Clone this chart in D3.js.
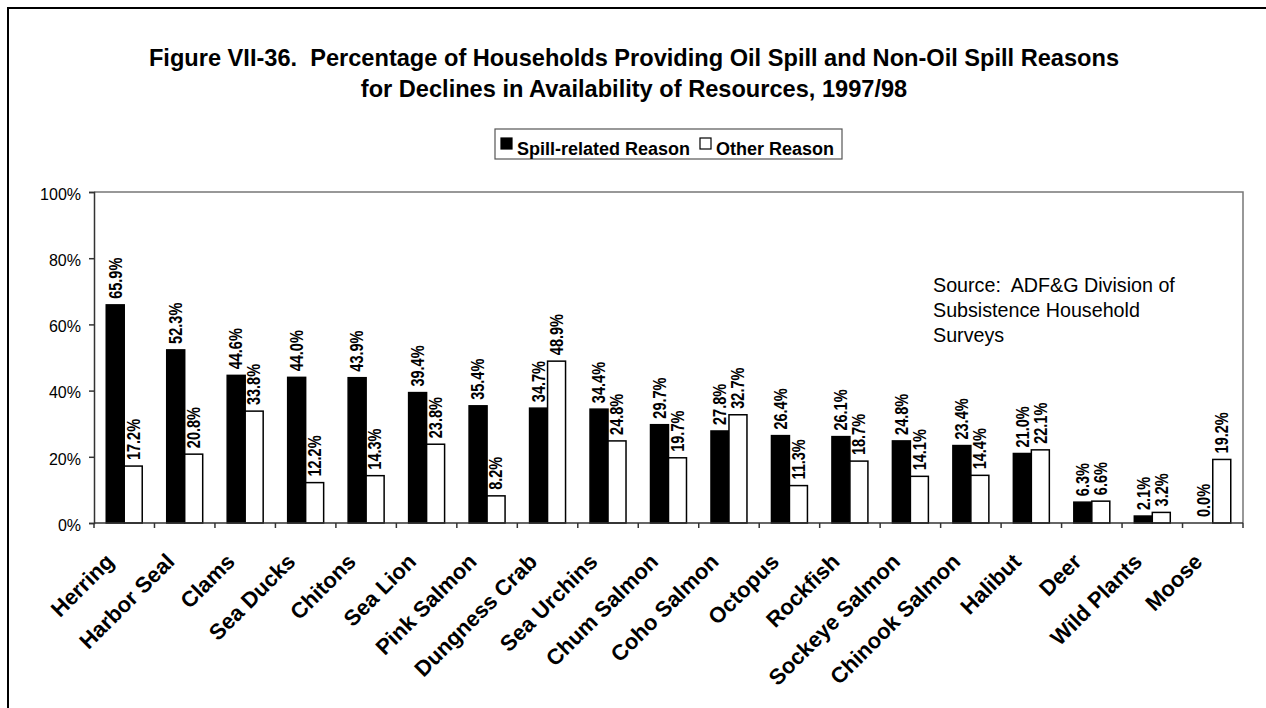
<!DOCTYPE html>
<html><head><meta charset="utf-8">
<script src="https://cdn.jsdelivr.net/npm/d3@7"></script>
<style>
body{margin:0;background:#fff}
svg{display:block}
text{font-family:Arial,"Liberation Sans",sans-serif;white-space:pre}
</style>
</head><body>
<svg id="chart" width="1266" height="708"></svg>
<script>
const categories = ["Herring","Harbor Seal","Clams","Sea Ducks","Chitons","Sea Lion","Pink Salmon","Dungness Crab","Sea Urchins","Chum Salmon","Coho Salmon","Octopus","Rockfish","Sockeye Salmon","Chinook Salmon","Halibut","Deer","Wild Plants","Moose"];
const spillValues = [65.9,52.3,44.6,44.0,43.9,39.4,35.4,34.7,34.4,29.7,27.8,26.4,26.1,24.8,23.4,21.0,6.3,2.1,0.0];
const otherValues = [17.2,20.8,33.8,12.2,14.3,23.8,8.2,48.9,24.8,19.7,32.7,11.3,18.7,14.1,14.4,22.1,6.6,3.2,19.2];
const seriesNames = ["Spill-related Reason","Other Reason"];
const seriesFill = ["#000000","#ffffff"];
const yTicks = [0,20,40,60,80,100];
const titleLines = ["Figure VII-36.  Percentage of Households Providing Oil Spill and Non-Oil Spill Reasons","for Declines in Availability of Resources, 1997/98"];
const sourceLines = ["Source:  ADF&G Division of","Subsistence Household","Surveys"];

const svg = d3.select("#chart");
const L = 94, R = 1243, T = 192, B = 523;

// outer border
svg.append("rect").attr("x",8).attr("y",8).attr("width",1300).attr("height",800)
  .attr("fill","none").attr("stroke","#000").attr("stroke-width",2);

// title
svg.append("g").selectAll("text").data(titleLines).join("text")
  .attr("x",634).attr("y",(d,i)=>66+i*31)
  .attr("text-anchor","middle").attr("font-weight","bold").attr("font-size",23.6)
  .text(d=>d);

const x = d3.scaleBand().domain(categories).range([L,R]).paddingInner(0.405).paddingOuter(0.2025);
const xs = d3.scaleBand().domain([0,1]).range([0,x.bandwidth()]);
const y = d3.scaleLinear().domain([0,100]).range([B,T]);

// plot frame (top/right)
svg.append("path").attr("d",`M${L},${T}H${R}V${B}`).attr("fill","none").attr("stroke","#777").attr("stroke-width",1.5);

// y axis
const ya = svg.append("g").attr("transform",`translate(${L},0)`)
  .call(d3.axisLeft(y).tickValues(yTicks).tickFormat(d=>d+"%").tickSize(5).tickPadding(8));
ya.select(".domain").attr("stroke","#333").attr("stroke-width",1.5);
ya.selectAll(".tick line").attr("stroke","#333").attr("stroke-width",1.5);
ya.selectAll(".tick text").attr("font-size",16).attr("font-family","Arial,'Liberation Sans',sans-serif").attr("fill","#000").attr("dy","0.45em");

// bars
const data = categories.map((c,i)=>({c, vals:[spillValues[i],otherValues[i]]}));
const groups = svg.append("g").selectAll("g").data(data).join("g")
  .attr("transform",d=>`translate(${x(d.c)},0)`);
groups.selectAll("rect").data(d=>d.vals.map((v,k)=>({v,k}))).join("rect")
  .attr("x",d=>xs(d.k)).attr("width",xs.bandwidth())
  .attr("y",d=>y(d.v)).attr("height",d=>B-y(d.v))
  .attr("fill",d=>seriesFill[d.k]).attr("stroke","#000").attr("stroke-width",1.5);
groups.selectAll("text").data(d=>d.vals.map((v,k)=>({v,k}))).join("text")
  .attr("transform",d=>`translate(${xs(d.k)+xs.bandwidth()/2},${y(d.v)-6}) rotate(-90) scale(0.83,1)`)
  .attr("dy","0.36em").attr("font-weight","bold").attr("font-size",17.5)
  .text(d=>d.v.toFixed(1)+"%");

// x axis
svg.append("line").attr("x1",L).attr("x2",R).attr("y1",B).attr("y2",B).attr("stroke","#333").attr("stroke-width",1.5);
const step = x.step();
const tickPos = categories.map(c=>x(c)-(step-x.bandwidth())/2).concat([R]);
svg.append("g").selectAll("line").data(tickPos).join("line")
  .attr("x1",d=>d).attr("x2",d=>d).attr("y1",B).attr("y2",B+5).attr("stroke","#333").attr("stroke-width",1.5);
svg.append("g").selectAll("text").data(categories).join("text")
  .attr("transform",c=>`translate(${x(c)+x.bandwidth()/2-9},${B+40}) rotate(-45)`)
  .attr("text-anchor","end").attr("font-weight","bold").attr("font-size",22)
  .text(c=>c);

// legend
const lg = svg.append("g");
lg.append("rect").attr("x",495).attr("y",129).attr("width",347).attr("height",30).attr("fill","#fff").attr("stroke","#555").attr("stroke-width",1.2);
const legX = [501,700], legT = [517,716];
seriesNames.forEach((n,i)=>{
  lg.append("rect").attr("x",legX[i]).attr("y",138).attr("width",11).attr("height",11)
    .attr("fill",seriesFill[i]).attr("stroke","#000").attr("stroke-width",1.2);
  lg.append("text").attr("x",legT[i]).attr("y",154.5).attr("font-weight","bold").attr("font-size",18).text(n);
});

// source note
svg.append("g").selectAll("text").data(sourceLines).join("text")
  .attr("x",933).attr("y",(d,i)=>292+i*25).attr("font-size",19.7).text(d=>d);
</script>
</body></html>
